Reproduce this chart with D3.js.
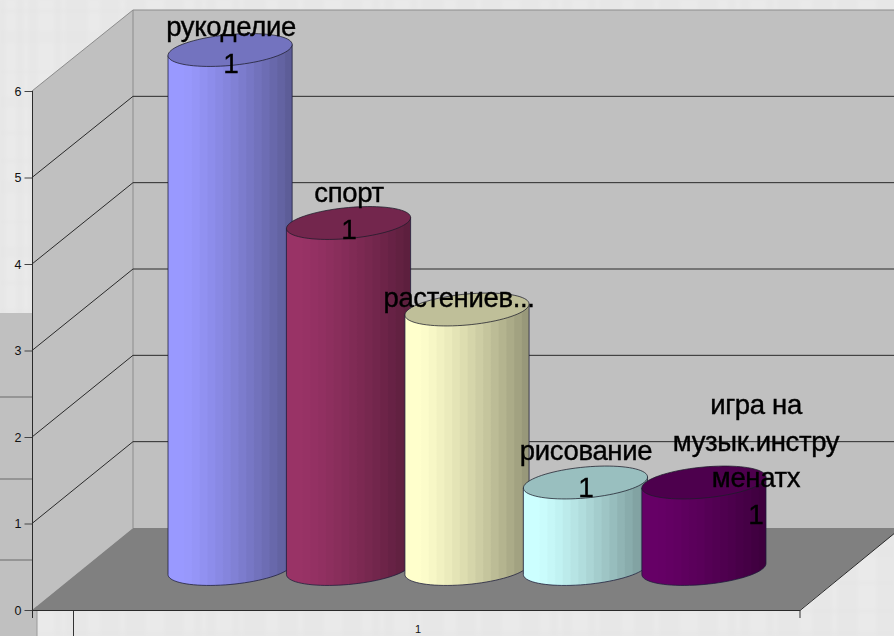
<!DOCTYPE html>
<html><head><meta charset="utf-8">
<style>html,body{margin:0;padding:0;background:#e8e8e8;overflow:hidden}svg{display:block}text{font-family:"Liberation Sans",Arial,sans-serif}</style>
<script src="https://cdn.jsdelivr.net/npm/d3@7"></script></head>
<body><div id="c"></div>
<script>
const categories=["рукоделие","спорт","растениев...","рисование","игра на музык.инстру менатх"];
const labelLines=[["рукоделие"],["спорт"],["растениев..."],["рисование"],["игра на","музык.инстру","менатх"]];
const valueLabels=["1","1","","1","1"];
const values=[6,4,3,1,1];
const yTicks=[0,1,2,3,4,5,6];
const xTickLabels=["1"];
const sideColors=[["#9999ff","#58588f"],["#993366","#571d3a"],["#ffffcc","#8f8f72"],["#ccffff","#739090"],["#660066","#3a003a"]];
const topColors=["#7373bf","#73264d","#bfbf99","#99bfbf","#4d004d"];

const W=894,H=636;
const svg=d3.select("#c").append("svg").attr("width",W).attr("height",H);
const defs=svg.append("defs");
const soft=defs.append("filter").attr("id","soft").attr("x","-10%").attr("y","-10%").attr("width","120%").attr("height","120%");
soft.append("feGaussianBlur").attr("stdDeviation",.35);
const soft2=defs.append("filter").attr("id","soft2").attr("x","0").attr("y","0").attr("width","100%").attr("height","100%");
soft2.append("feGaussianBlur").attr("stdDeviation",1.6);
// paper texture
const pat=defs.append("pattern").attr("id","paper").attr("patternUnits","userSpaceOnUse").attr("width",178).attr("height",150);
pat.append("rect").attr("width",178).attr("height",150).attr("fill","#e7e7e7");
[[6,10],[24,4],[38,16],[62,3],[88,12],[120,5],[146,18]].forEach(d=>pat.append("rect").attr("x",d[0]).attr("y",0).attr("width",d[1]).attr("height",150).attr("fill","#efefef").attr("opacity",.35));
[[8,6],[30,14],[70,4],[96,12],[130,6]].forEach(d=>pat.append("rect").attr("x",0).attr("y",d[0]).attr("width",178).attr("height",d[1]).attr("fill","#e0e0e0").attr("opacity",.2));
svg.append("rect").attr("width",W).attr("height",H).attr("fill","url(#paper)").attr("filter","url(#soft2)");

// scales
const y=d3.scaleLinear().domain([0,6]).range([610,91]);
const yb=d3.scaleLinear().domain([0,6]).range([528,10]);   // same values on the back wall
const depthX=101;
const x=d3.scaleBand().domain(categories).range([168,766]).paddingInner(-0.048);
const bw=x.bandwidth();

// grey panel behind the plot, bottom left
svg.append("rect").attr("x",0).attr("y",313).attr("width",37).attr("height",323).attr("fill","#c0c0c0");
svg.selectAll(".pl").data([397,479,560]).join("line").attr("x1",0).attr("x2",32).attr("y1",d=>d).attr("y2",d=>d).attr("stroke","#6a6a6a");
svg.append("line").attr("x1",37).attr("x2",37).attr("y1",610).attr("y2",636).attr("stroke","#9a9a9a");
svg.append("line").attr("x1",73.5).attr("x2",73.5).attr("y1",610).attr("y2",636).attr("stroke","#333");

const xL=32,xB=32+depthX,xR=800;
// back wall
svg.append("rect").attr("x",xB).attr("y",yb(6)).attr("width",W-xB).attr("height",yb(0)-yb(6)).attr("fill","#c0c0c0");
// side wall
svg.append("path").attr("d",`M${xL},${y(0)}L${xB},${yb(0)}L${xB},${yb(6)}L${xL},${y(6)}Z`).attr("fill","#c0c0c0");
// floor
const slope=(yb(0)-y(0))/depthX;
svg.append("path").attr("d",`M${xL},${y(0)}L${xB},${yb(0)}L${W},${yb(0)}L${W},${y(0)+(W-xR)*slope}L${xR},${y(0)}Z`).attr("fill","#808080");
// outlines
svg.append("path").attr("d",`M${xL},${y(6)}L${xB},${yb(6)}L${W},${yb(6)}M${xB},${yb(6)}L${xB},${yb(0)}`).attr("fill","none").attr("stroke","#8c8c8c");
// gridlines
const gl=yTicks.filter(d=>d>0&&d<6);
svg.selectAll(".g").data(gl).join("path").attr("d",d=>`M${xL},${y(d)}L${xB},${yb(d)}L${W},${yb(d)}`).attr("fill","none").attr("stroke","#2a2a2a").attr("stroke-width",1);
// floor edges
svg.append("path").attr("d",`M${xL},${y(0)+.5}L${xR},${y(0)+.5}L${W},${y(0)+(W-xR)*slope}`).attr("fill","none").attr("stroke","#2a2a2a");
svg.append("line").attr("x1",xR).attr("x2",xR).attr("y1",y(0)).attr("y2",y(0)+8).attr("stroke","#333");

// y axis
const axis=d3.axisLeft(y).tickValues(yTicks).tickSize(8).tickPadding(3).tickFormat(d3.format("d"));
const ag=svg.append("g").attr("transform",`translate(${xL+.5},0)`).call(axis);
ag.select(".domain").remove();
ag.append("line").attr("y1",y(6)).attr("y2",y(0)+8).attr("stroke","#2a2a2a");
ag.selectAll(".tick line").attr("stroke","#444");
ag.selectAll(".tick text").attr("font-size",12.5).attr("fill","#111").attr("font-family",'"DejaVu Sans",sans-serif');

// x label
svg.selectAll(".xl").data(xTickLabels).join("text").attr("x",418).attr("y",632.5).attr("text-anchor","middle").attr("font-size",11).attr("fill","#111").attr("font-family",'"DejaVu Sans",sans-serif').text(d=>d);

// cylinders
const tilt=5.5, ry=15.5, hw=bw/2;
const ang=d3.range(0,Math.PI+.001,Math.PI/40);
const pt=(cx,cy,t)=>[cx+hw*Math.cos(t),cy-tilt*Math.cos(t)+ry*Math.sin(t)];
const line=d3.line();
values.forEach((v,i)=>{
  const g=defs.append("linearGradient").attr("id","g"+i);
  const [a,b]=sideColors[i], c=d3.interpolateRgb(a,b);
  const bands=16;
  g.append("stop").attr("offset",0).attr("stop-color",d3.interpolateRgb(a,"#000")(.04));
  d3.range(bands).forEach(k=>{
    const t=k/bands, s=Math.max(0,(t-.08)/.92), col=c(Math.pow(s,1.25));
    g.append("stop").attr("offset",t+.01).attr("stop-color",col);
    g.append("stop").attr("offset",t+1/bands).attr("stop-color",col);
  });
  const cx=x(categories[i])+hw;
  const baseY=(y(0)+yb(0))/2, topY=baseY-(y(0)-y(v));
  const low=ang.map(t=>pt(cx,baseY,t));
  const body=[[cx+hw,topY-tilt],...low,[cx-hw,topY+tilt]];
  svg.append("path").attr("d",line(body)+"Z").attr("fill",`url(#g${i})`).attr("stroke","#1c1c3a").attr("stroke-opacity",.75).attr("stroke-width",1);
  const rim=d3.range(0,Math.PI*2,Math.PI/40).map(t=>pt(cx,topY,t));
  svg.append("path").attr("d",line(rim)+"Z").attr("fill",topColors[i]).attr("stroke","#1c1c2a").attr("stroke-opacity",.75).attr("stroke-width",1);
});

// data labels
const labelCx=[231,349,459,586,756];
const labelBase=[36,202,307,460,414];
const lineGap=36.5;
const lab=svg.append("g").attr("filter","url(#soft)");
labelLines.forEach((ls,i)=>{
  ls.forEach((s,k)=>{
    lab.append("text").attr("x",labelCx[i]).attr("y",labelBase[i]+k*lineGap).attr("text-anchor","middle")
      .attr("font-size",27.5).attr("letter-spacing",-.35).attr("fill","#000").attr("stroke","#000").attr("stroke-width",.4).text(s);
  });
  if(valueLabels[i]) lab.append("text").attr("x",labelCx[i]).attr("y",labelBase[i]+ls.length*lineGap+.5).attr("text-anchor","middle")
      .attr("font-size",28).attr("fill","#000").attr("stroke","#000").attr("stroke-width",.4).text(valueLabels[i]);
});
</script></body></html>
